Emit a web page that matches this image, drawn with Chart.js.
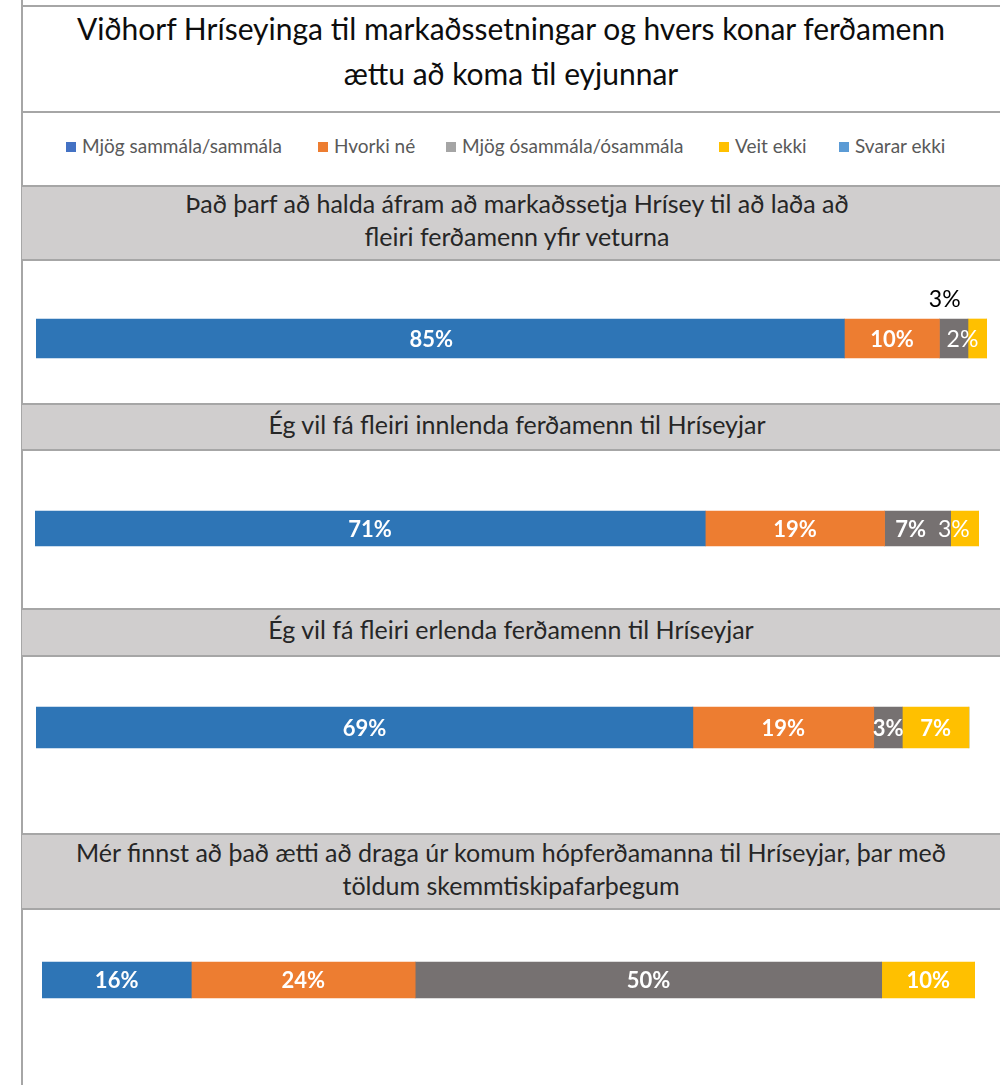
<!DOCTYPE html>
<html>
<head>
<meta charset="utf-8">
<script src="https://cdn.jsdelivr.net/npm/chart.js@4.4.1/dist/chart.umd.min.js"></script>
<style>
  html, body { margin: 0; padding: 0; background: #fff; }
  body { width: 1000px; height: 1085px; position: relative; overflow: hidden; font-family: Lato, "Open Sans", sans-serif; }
  .abs { position: absolute; }
  .vline { left: 21px; top: 0; width: 2px; height: 1085px; background: #a6a6a6; }
  .hline { left: 22px; width: 978px; height: 2px; background: #a6a6a6; }
  .title { left: 22px; width: 978px; top: 6px; text-align: center; font-size: 30px; line-height: 45px; color: #0d0d0d; }
  .band { left: 22px; width: 978px; background: #d0cece; border-top: 2px solid #a6a6a6; border-bottom: 2px solid #a6a6a6;
          box-sizing: border-box; display: flex; flex-direction: column; justify-content: center; align-items: center;
          font-size: 25px; line-height: 33px; color: #262626; padding-bottom: 6px; white-space: nowrap; }
  .leg { top: 135px; font-size: 19px; line-height: 22px; color: #595959; white-space: nowrap; }
  .leg i { display: inline-block; width: 10px; height: 10px; margin-right: 6px; vertical-align: 1px; }
  .barbox { position: absolute; }
</style>
</head>
<body>
<script>
// ---------- DATA ----------
const chartTitle = ["Viðhorf Hríseyinga til markaðssetningar og hvers konar ferðamenn", "ættu að koma til eyjunnar"];
const categories = [
  ["Það þarf að halda áfram að markaðssetja Hrísey til að laða að", "fleiri ferðamenn yfir veturna"],
  ["Ég vil fá fleiri innlenda ferðamenn til Hríseyjar"],
  ["Ég vil fá fleiri erlenda ferðamenn til Hríseyjar"],
  ["Mér finnst að það ætti að draga úr komum hópferðamanna til Hríseyjar, þar með", "töldum skemmtiskipafarþegum"]
];
const seriesNames = ["Mjög sammála/sammála", "Hvorki né", "Mjög ósammála/ósammála", "Veit ekki", "Svarar ekki"];
const agree     = [85, 71, 69, 16];
const neutral   = [10, 19, 19, 24];
const disagree  = [3, 7, 3, 50];
const dontKnow  = [2, 3, 7, 10];
const noAnswer  = [0, 0, 0, 0];

// ---------- STYLE ----------
const barColors    = ["#2e75b6", "#ed7d31", "#767171", "#ffc000", "#5b9bd5"];
const legendColors = ["#4472c4", "#ed7d31", "#a5a5a5", "#ffc000", "#5b9bd5"];
const legendX = [66, 318, 446, 719, 839];
const bands = [[185, 261], [403, 451], [608, 657], [833, 910]];
const bandShift = [6, 6, 0, 0];
const barGeom = [  // left, right, top, bottom of each bar row
  [36, 987, 319, 358],
  [35, 979, 511, 546],
  [36, 988, 707, 748],
  [42, 975, 962, 998]
];
// label styles per row, per series: [bold, color, dx, dy]
const labelStyle = [
  [[1,'#fff',-9,0],[1,'#fff',0,0],[0,'#000',-9,-40],[0,'#fff',-15,0]],
  [[1,'#fff',0,0],[1,'#fff',0,0],[1,'#fff',-7,0],[0,'#fff',-11,0]],
  [[1,'#fff',0,0],[1,'#fff',0,0],[1,'#fff',0,0],[1,'#fff',0,0]],
  [[1,'#fff',0,0],[1,'#fff',0,0],[1,'#fff',0,0],[1,'#fff',0,0]]
];

// ---------- STATIC FRAME ----------
function el(cls, css, html) {
  const d = document.createElement('div');
  d.className = 'abs ' + cls;
  Object.assign(d.style, css || {});
  if (html !== undefined) d.innerHTML = html;
  document.body.appendChild(d);
  return d;
}
el('vline');
el('hline', { top: '5px' });
el('title', {}, chartTitle.join('<br>'));
el('hline', { top: '111px' });
seriesNames.forEach((n, i) => {
  el('leg', { left: legendX[i] + 'px' }, '<i style="background:' + legendColors[i] + '"></i>' + n);
});
categories.forEach((lines, i) => {
  el('band', { top: bands[i][0] + 'px', height: (bands[i][1] - bands[i][0]) + 'px',
               paddingLeft: bandShift[i] * 2 + 'px' }, lines.map(l => '<div>' + l + '</div>').join(''));
});

// ---------- LABEL PLUGIN ----------
const segLabels = {
  id: 'segLabels',
  afterDatasetsDraw(chart) {
    const row = chart.options.plugins.segLabels.row;
    const ctx = chart.ctx;
    chart.data.datasets.forEach((ds, di) => {
      const v = ds.data[0];
      if (!v) return;
      const st = labelStyle[row][di];
      const m = chart.getDatasetMeta(di).data[0];
      const cx = (m.x + m.base) / 2 + st[2];
      const cy = m.y + st[3] + 1;
      ctx.save();
      ctx.font = (st[0] ? 'bold 22px ' : '23px ') + 'Lato, "Open Sans", sans-serif';
      ctx.fillStyle = st[1];
      ctx.textAlign = 'center';
      ctx.textBaseline = 'middle';
      ctx.fillText(v + '%', cx, cy);
      ctx.restore();
    });
  }
};

// ---------- BAR CHARTS ----------
const seriesData = [agree, neutral, disagree, dontKnow, noAnswer];
const padV = 60;
barGeom.forEach((g, row) => {
  const [l, r, t, b] = g;
  const box = document.createElement('div');
  box.className = 'barbox';
  Object.assign(box.style, { left: l + 'px', top: (t - padV) + 'px', width: (r - l) + 'px', height: (b - t + 2 * padV) + 'px' });
  const cv = document.createElement('canvas');
  box.appendChild(cv);
  document.body.appendChild(box);
  new Chart(cv, {
    type: 'bar',
    data: {
      labels: [categories[row].join(' ')],
      datasets: seriesNames.map((n, si) => ({
        label: n,
        data: [seriesData[si][row]],
        backgroundColor: barColors[si],
        borderWidth: 0,
        barThickness: b - t
      }))
    },
    options: {
      indexAxis: 'y',
      responsive: true,
      maintainAspectRatio: false,
      animation: false,
      layout: { padding: 0 },
      scales: {
        x: { stacked: true, min: 0, max: 100, display: false },
        y: { stacked: true, display: false }
      },
      plugins: {
        legend: { display: false },
        tooltip: { enabled: false },
        segLabels: { row: row }
      }
    },
    plugins: [segLabels]
  });
});
</script>
</body>
</html>
